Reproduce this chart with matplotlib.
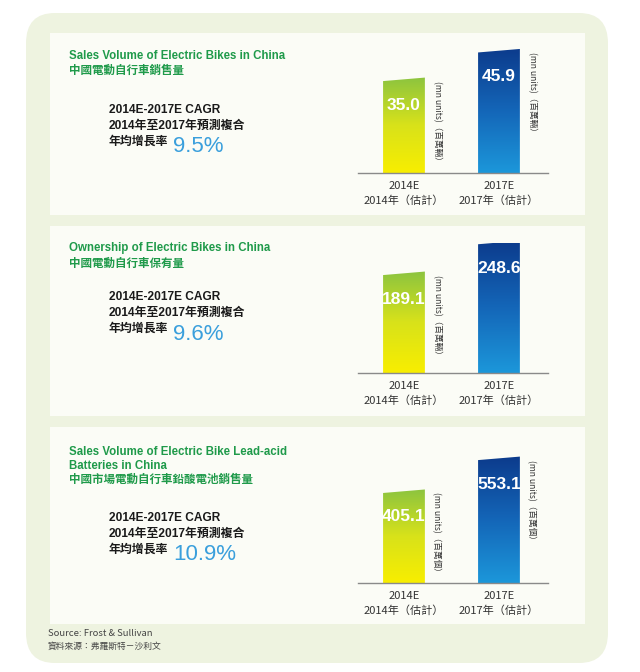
import numpy as np
import matplotlib.pyplot as plt
from matplotlib.patches import FancyBboxPatch, Rectangle, Polygon
from matplotlib.colors import LinearSegmentedColormap

# Data
titles = ['Sales Volume of Electric Bikes in China',
          'Ownership of Electric Bikes in China',
          'Sales Volume of Electric Bike Lead-acid\nBatteries in China']
titles_zh = ['中國電動自行車銷售量', '中國電動自行車保有量', '中國市場電動自行車鉛酸電池銷售量']
years = ['2014E\n2014年（估計）', '2017E\n2017年（估計）']
values_2014 = [35.0, 189.1, 405.1]
values_2017 = [45.9, 248.6, 553.1]
cagr = ['9.5%', '9.6%', '10.9%']
units = ['(mn units)（百萬輛）', '(mn units)（百萬輛）', '(mn units)（百萬個）']

W, H = 640, 672
LAT = ['Liberation Sans', 'Noto Sans CJK TC', 'DejaVu Sans']
NAR = ['Noto Sans CJK TC', 'DejaVu Sans']
GREEN = '#1f9a4a'
BLUE_TXT = '#3a9fdc'

fig = plt.figure(figsize=(W / 100, H / 100), dpi=100)
fig.patch.set_facecolor('white')


def fx(x):
    return x / W


def fy(y):
    return 1 - y / H


# outer rounded box
outer = FancyBboxPatch((fx(26), fy(663)), fx(608) - fx(26), fy(13) - fy(663),
                       boxstyle='round,pad=0,rounding_size=0.045',
                       transform=fig.transFigure, facecolor='#eef3e0',
                       edgecolor='none', zorder=-3)
fig.add_artist(outer)

panel_top = [33, 226, 427]
panel_bot = [215, 416, 624]
title_y = [56, 248, 452]
zh_y = [70, 263, 479]
cagr_y = [110, 297, 518]
baseline = [173, 373, 583]
ymax = [49.5, 251, 585]

green_cm = LinearSegmentedColormap.from_list('g', ['#f8ee00', '#d8e21a', '#8cc43f'])
blue_cm = LinearSegmentedColormap.from_list('b', ['#1c97da', '#1466b8', '#0c3b8c'])
grad = np.linspace(0, 1, 256).reshape(-1, 1)

for i in range(3):
    fig.add_artist(Rectangle((fx(50), fy(panel_bot[i])), fx(585) - fx(50),
                             fy(panel_top[i]) - fy(panel_bot[i]),
                             transform=fig.transFigure, facecolor='#fbfcf6',
                             edgecolor='none', zorder=-2))

    # titles
    if '\n' in titles[i]:
        fig.text(fx(69), fy(title_y[i] - 6), titles[i], color=GREEN, fontsize=8.3,
                 fontweight='bold', family=LAT, ha='left', va='top', linespacing=1.2)
    else:
        fig.text(fx(69), fy(title_y[i]), titles[i], color=GREEN, fontsize=8.3,
                 fontweight='bold', family=LAT, ha='left', va='center')
    fig.text(fx(69), fy(zh_y[i]), titles_zh[i], color=GREEN, fontsize=8.3,
             fontweight='bold', family=['Noto Sans CJK TC'], ha='left', va='center')

    # CAGR block
    c = cagr_y[i]
    fig.text(fx(109), fy(c), '2014E-2017E CAGR', fontsize=8.6, fontweight='bold',
             family=LAT, color='#1a1a1a', va='center')
    fig.text(fx(109), fy(c + 16), '2014年至2017年預測複合', fontsize=8.6, fontweight='bold',
             family=LAT, color='#1a1a1a', va='center')
    fig.text(fx(109), fy(c + 32), '年均增長率', fontsize=8.6, fontweight='bold',
             family=LAT, color='#1a1a1a', va='center')
    fig.text(fx(173), fy(c + 37), cagr[i], fontsize=16, family=LAT,
             color=BLUE_TXT, va='center', ha='left')

    # bars
    ax = fig.add_axes([fx(358), fy(baseline[i]), fx(548) - fx(358), 130 / H])
    ax.set_facecolor('none')
    vals = [values_2014[i], values_2017[i]]
    cmaps = [green_cm, blue_cm]
    bw = 0.44
    slant = 3.5 / 130 * ymax[i]
    for j, v in enumerate(vals):
        poly = Polygon([(j - bw / 2, 0), (j + bw / 2, 0), (j + bw / 2, v + slant),
                        (j - bw / 2, v)], closed=True, facecolor='none', edgecolor='none')
        ax.add_patch(poly)
        im = ax.imshow(grad, cmap=cmaps[j], origin='lower', aspect='auto',
                       extent=[j - bw / 2, j + bw / 2, 0, v + slant], zorder=2)
        im.set_clip_path(poly)
        ax.annotate(f'{v:.1f}', (j, v), xytext=(0, -24), textcoords='offset pixels',
                    ha='center', va='center', color='white', fontsize=12.5,
                    fontweight='bold', family=LAT, zorder=3)
        ax.annotate(units[i], (j + bw / 2, v + slant), xytext=(12, -3),
                    textcoords='offset pixels', rotation=-90, ha='center', va='top',
                    fontsize=6.2, color='#333333', family=NAR)

    ax.set_xlim(-0.484, 1.516)
    ax.set_ylim(0, ymax[i])
    ax.set_xticks([0, 1])
    ax.set_xticklabels(years, fontsize=8, color='#333333', family=NAR, linespacing=1.45)
    ax.tick_params(axis='x', length=0, pad=6)
    ax.set_yticks([])
    for s in ['left', 'top', 'right']:
        ax.spines[s].set_visible(False)
    ax.spines['bottom'].set_color('#8a8a8a')
    ax.spines['bottom'].set_linewidth(1)

fig.text(fx(48), fy(634), 'Source: Frost & Sullivan', fontsize=6.8, color='#444444',
         family=NAR, va='center')
fig.text(fx(48), fy(646), '資料來源：弗羅斯特－沙利文', fontsize=6.3, color='#444444',
         family=NAR, va='center')

fig.savefig('out.png', dpi=100)
